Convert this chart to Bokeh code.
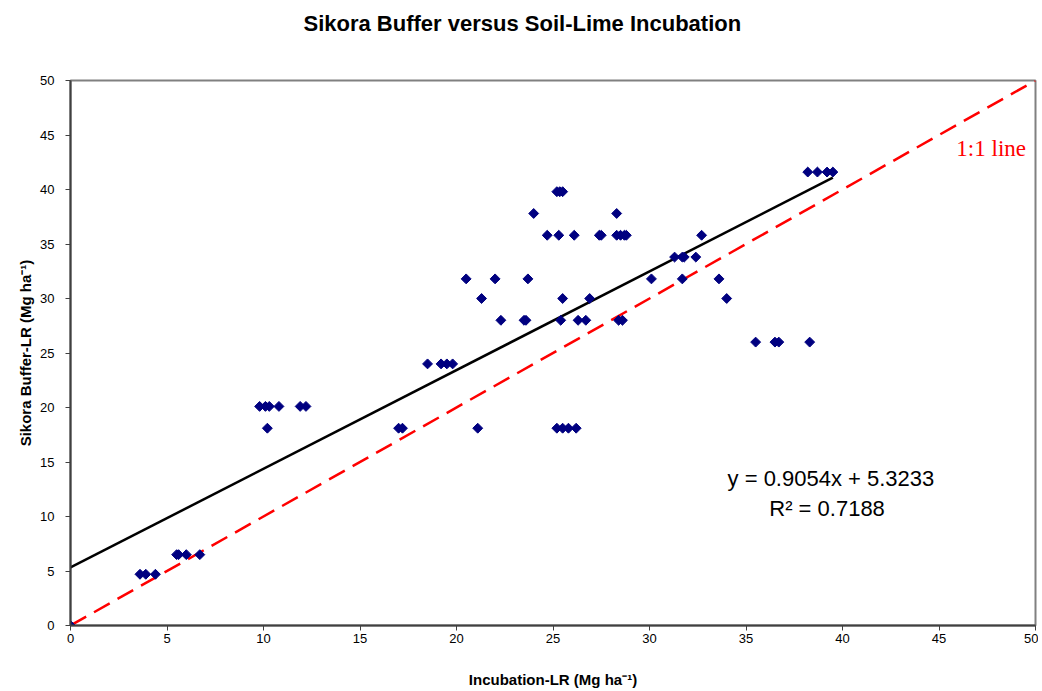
from bokeh.plotting import figure
from bokeh.models import Range1d, SingleIntervalTicker, Label, Title
from bokeh.embed import file_html
from bokeh.resources import INLINE
import numpy as np

# Data
incubation_lr = [0.0,
                 3.6, 3.9, 4.4,
                 5.5, 5.6, 6.0, 6.7,
                 9.8, 10.1, 10.3, 10.8, 11.9, 12.2,
                 10.2, 17.0, 17.2, 21.1, 25.2, 25.5, 25.8, 26.2,
                 18.5, 19.2, 19.5, 19.8,
                 22.3, 23.5, 23.6, 25.4, 26.3, 26.7, 28.4, 28.6,
                 21.3, 25.5, 26.9, 34.0,
                 20.5, 22.0, 23.7, 30.1, 31.7, 33.6,
                 31.3, 31.7, 31.8, 32.4,
                 24.7, 25.3, 26.1, 27.4, 27.5, 28.3, 28.5, 28.7, 28.8, 32.7,
                 24.0, 28.3,
                 25.2, 25.35, 25.5,
                 38.2, 38.7, 39.2, 39.5,
                 35.5, 36.5, 36.7, 38.3]
sikora_lr = [0.0,
             4.7, 4.7, 4.7,
             6.5, 6.5, 6.5, 6.5,
             20.1, 20.1, 20.1, 20.1, 20.1, 20.1,
             18.1, 18.1, 18.1, 18.1, 18.1, 18.1, 18.1, 18.1,
             24.0, 24.0, 24.0, 24.0,
             28.0, 28.0, 28.0, 28.0, 28.0, 28.0, 28.0, 28.0,
             30.0, 30.0, 30.0, 30.0,
             31.8, 31.8, 31.8, 31.8, 31.8, 31.8,
             33.8, 33.8, 33.8, 33.8,
             35.8, 35.8, 35.8, 35.8, 35.8, 35.8, 35.8, 35.8, 35.8, 35.8,
             37.8, 37.8,
             39.8, 39.8, 39.8,
             41.6, 41.6, 41.6, 41.6,
             26.0, 26.0, 26.0, 26.0]

slope = 0.9054
intercept = 5.3233
r_squared = 0.7188
one_to_one = [0, 50]
chart_title = "Sikora Buffer versus Soil-Lime Incubation"

FONT = "Liberation Sans"

p = figure(width=1038, height=691, output_backend="svg", toolbar_location=None,
           x_range=Range1d(0, 50), y_range=Range1d(0, 50),
           min_border_left=70, min_border_right=3, min_border_top=80, min_border_bottom=66,
           title=None)

# spacer (closest to the frame) then the real title above it
p.add_layout(Title(text=" ", text_font_size="39px", standoff=0), "above")
p.add_layout(Title(text=chart_title, text_font=FONT, text_font_size="22px",
                   text_font_style="bold", text_color="black", align="left",
                   offset=233, standoff=0), "above")

p.xgrid.visible = False
p.ygrid.visible = False
p.outline_line_color = "#808080"
p.outline_line_width = 2
p.background_fill_color = "white"
p.border_fill_color = "white"

for ax in (p.xaxis[0], p.yaxis[0]):
    ax.ticker = SingleIntervalTicker(interval=5)
    ax.minor_tick_line_color = None
    ax.axis_line_color = "#404040"
    ax.axis_line_width = 2
    ax.major_tick_line_color = "#404040"
    ax.major_tick_line_width = 1
    ax.major_tick_out = 5
    ax.major_tick_in = 0
    ax.major_label_text_font = FONT
    ax.major_label_text_font_size = "13px"
    ax.major_label_text_color = "black"
    ax.axis_label_text_font = FONT
    ax.axis_label_text_font_size = "15px"
    ax.axis_label_text_font_style = "bold"
    ax.axis_label_text_color = "black"

p.xaxis.axis_label = "Incubation-LR (Mg ha⁻¹)"
p.yaxis.axis_label = "Sikora Buffer-LR (Mg ha⁻¹)"
p.xaxis.major_label_standoff = 3
p.yaxis.major_label_standoff = 11
p.xaxis.axis_label_standoff = 25
p.yaxis.axis_label_standoff = 3

# 1:1 line
p.line(one_to_one, one_to_one, line_color="red", line_width=2.5, line_dash="18 9")

# regression line
xr = np.array([0.0, max(incubation_lr)])
p.line(xr, slope * xr + intercept, line_color="black", line_width=2.5)

# points
p.scatter(incubation_lr, sikora_lr, marker="square", size=7, angle=np.pi / 4,
          fill_color="#000080", line_color="#000080")

p.add_layout(Label(x=45.9, y=43.8, text="1:1 line", text_font="Liberation Serif",
                   text_font_size="23px", text_color="red", text_baseline="middle"))
p.add_layout(Label(x=39.4, y=13.5, text=f"y = {slope}x + {intercept}", text_font=FONT,
                   text_font_size="22px", text_color="black", text_baseline="middle",
                   text_align="center"))
p.add_layout(Label(x=39.2, y=10.7, text=f"R² = {r_squared}", text_font=FONT,
                   text_font_size="22px", text_color="black", text_baseline="middle",
                   text_align="center"))

open("out.html", "w").write(file_html(p, INLINE))
